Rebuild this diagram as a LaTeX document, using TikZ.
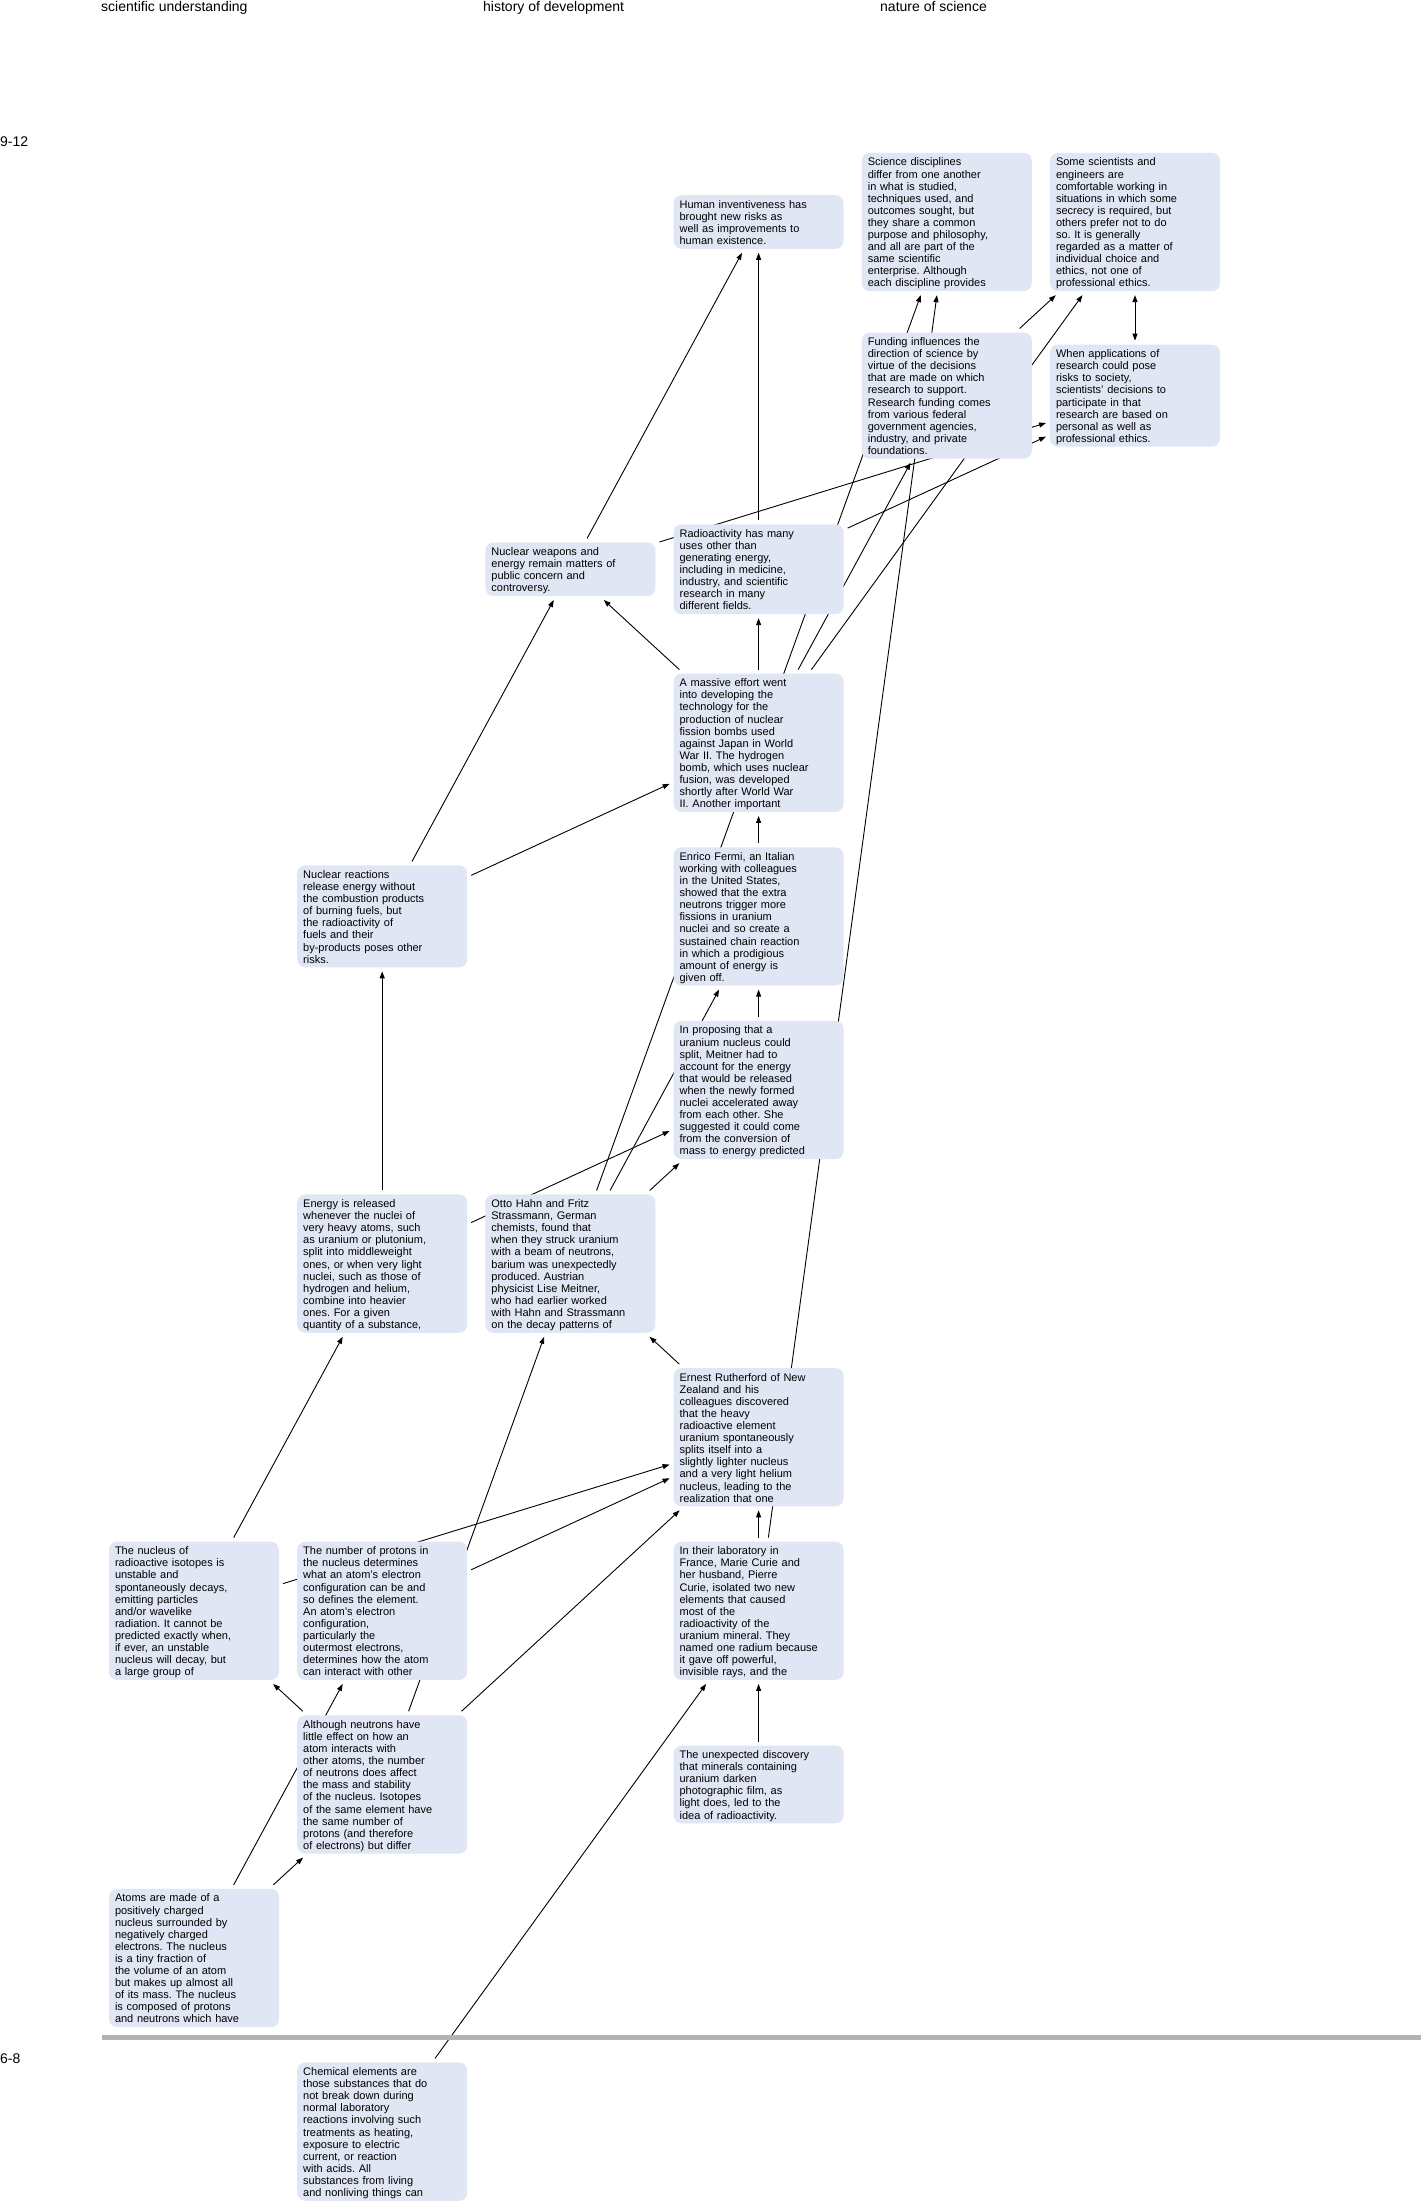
\documentclass[tikz,border=0pt]{standalone}
\usepackage{fontspec}
\setmainfont{Liberation Sans}
\usetikzlibrary{arrows.meta}
\definecolor{boxfill}{RGB}{225,230,245}
\definecolor{sepgray}{RGB}{179,179,179}
\pgfdeclarelayer{background}
\pgfsetlayers{background,main}
\frenchspacing
\newcommand{\topstrut}{\rule[-3.63pt]{0pt}{16.1pt}}
\newcommand{\botstrut}{\rule[-3.63pt]{0pt}{12.1pt}}
\newcommand{\bx}[4]{\node[box] (#1) at (#2,#3) {\topstrut#4\botstrut};}
\begin{document}
\begin{tikzpicture}[x=1pt,y=-1pt,
  box/.style={fill=boxfill, rounded corners=8pt, text width=158pt, inner xsep=6pt, inner ysep=0.6pt,
    align=left, font=\fontsize{11}{12.1}\selectfont, outer sep=4pt},
  edge/.style={draw=black, line width=0.9pt},
  >={Triangle[length=7pt,width=5pt]},
  hdr/.style={anchor=base west, inner sep=0pt, font=\fontsize{14}{16}\selectfont}]
\useasboundingbox (0,0) rectangle (1421,2204);
% headers
\node[hdr] (h1) at (101,11) {scientific understanding};
\node[hdr] (h2) at (483,11) {history of development};
\node[hdr] (h3) at (880,11) {nature of science};
\node[hdr] (g1) at (0,146) {9-12};
\node[hdr] (g2) at (0,2063) {6-8};
\fill[sepgray] (102,2035) rectangle (1421,2040);
% boxes
\bx{HI}{758.6}{222}{Human inventiveness has\\brought new risks as\\well as improvements to\\human existence.}
\bx{SD}{946.8}{222}{Science disciplines\\differ from one another\\in what is studied,\\techniques used, and\\outcomes sought, but\\they share a common\\purpose and philosophy,\\and all are part of the\\same scientific\\enterprise. Although\\each discipline provides}
\bx{SS}{1135}{222}{Some scientists and\\engineers are\\comfortable working in\\situations in which some\\secrecy is required, but\\others prefer not to do\\so. It is generally\\regarded as a matter of\\individual choice and\\ethics, not one of\\professional ethics.}
\bx{FU}{946.8}{395.6}{Funding influences the\\direction of science by\\virtue of the decisions\\that are made on which\\research to support.\\Research funding comes\\from various federal\\government agencies,\\industry, and private\\foundations.}
\bx{WA}{1135}{395.6}{When applications of\\research could pose\\risks to society,\\scientists' decisions to\\participate in that\\research are based on\\personal as well as\\professional ethics.}
\bx{NW}{570.4}{569.2}{Nuclear weapons and\\energy remain matters of\\public concern and\\controversy.}
\bx{RA}{758.6}{569.2}{Radioactivity has many\\uses other than\\generating energy,\\including in medicine,\\industry, and scientific\\research in many\\different fields.}
\bx{ME}{758.6}{742.8}{A massive effort went\\into developing the\\technology for the\\production of nuclear\\fission bombs used\\against Japan in World\\War II. The hydrogen\\bomb, which uses nuclear\\fusion, was developed\\shortly after World War\\II. Another important}
\bx{NR}{382.2}{916.4}{Nuclear reactions\\release energy without\\the combustion products\\of burning fuels, but\\the radioactivity of\\fuels and their\\by-products poses other\\risks.}
\bx{EF}{758.6}{916.4}{Enrico Fermi, an Italian\\working with colleagues\\in the United States,\\showed that the extra\\neutrons trigger more\\fissions in uranium\\nuclei and so create a\\sustained chain reaction\\in which a prodigious\\amount of energy is\\given off.}
\bx{IP}{758.6}{1090}{In proposing that a\\uranium nucleus could\\split, Meitner had to\\account for the energy\\that would be released\\when the newly formed\\nuclei accelerated away\\from each other. She\\suggested it could come\\from the conversion of\\mass to energy predicted}
\bx{ER}{382.2}{1263.6}{Energy is released\\whenever the nuclei of\\very heavy atoms, such\\as uranium or plutonium,\\split into middleweight\\ones, or when very light\\nuclei, such as those of\\hydrogen and helium,\\combine into heavier\\ones. For a given\\quantity of a substance,}
\bx{OH}{570.4}{1263.6}{Otto Hahn and Fritz\\Strassmann, German\\chemists, found that\\when they struck uranium\\with a beam of neutrons,\\barium was unexpectedly\\produced. Austrian\\physicist Lise Meitner,\\who had earlier worked\\with Hahn and Strassmann\\on the decay patterns of}
\bx{RU}{758.6}{1437.2}{Ernest Rutherford of New\\Zealand and his\\colleagues discovered\\that the heavy\\radioactive element\\uranium spontaneously\\splits itself into a\\slightly lighter nucleus\\and a very light helium\\nucleus, leading to the\\realization that one}
\bx{NU}{194}{1610.8}{The nucleus of\\radioactive isotopes is\\unstable and\\spontaneously decays,\\emitting particles\\and/or wavelike\\radiation. It cannot be\\predicted exactly when,\\if ever, an unstable\\nucleus will decay, but\\a large group of}
\bx{NP}{382.2}{1610.8}{The number of protons in\\the nucleus determines\\what an atom's electron\\configuration can be and\\so defines the element.\\An atom's electron\\configuration,\\particularly the\\outermost electrons,\\determines how the atom\\can interact with other}
\bx{MC}{758.6}{1610.8}{In their laboratory in\\France, Marie Curie and\\her husband, Pierre\\Curie, isolated two new\\elements that caused\\most of the\\radioactivity of the\\uranium mineral. They\\named one radium because\\it gave off powerful,\\invisible rays, and the}
\bx{AN}{382.2}{1784.4}{Although neutrons have\\little effect on how an\\atom interacts with\\other atoms, the number\\of neutrons does affect\\the mass and stability\\of the nucleus. Isotopes\\of the same element have\\the same number of\\protons (and therefore\\of electrons) but differ}
\bx{UD}{758.6}{1784.4}{The unexpected discovery\\that minerals containing\\uranium darken\\photographic film, as\\light does, led to the\\idea of radioactivity.}
\bx{AT}{194}{1958}{Atoms are made of a\\positively charged\\nucleus surrounded by\\negatively charged\\electrons. The nucleus\\is a tiny fraction of\\the volume of an atom\\but makes up almost all\\of its mass. The nucleus\\is composed of protons\\and neutrons which have}
\bx{CE}{382.2}{2131.6}{Chemical elements are\\those substances that do\\not break down during\\normal laboratory\\reactions involving such\\treatments as heating,\\exposure to electric\\current, or reaction\\with acids. All\\substances from living\\and nonliving things can}
% connectors
\begin{pgfonlayer}{background}
\draw[edge,->] (NW) -- (HI);
\draw[edge,->] (RA) -- (HI);
\draw[edge,->] (OH) -- (SD);
\draw[edge,->] (MC) -- (SD);
\draw[edge,->] (FU) -- (SS);
\draw[edge,->] (ME) -- (SS);
\draw[edge,<->] (SS) -- (WA);
\draw[edge,->] (NW) -- (WA);
\draw[edge,->] (RA) -- (WA);
\draw[edge,->] (NR) -- (ME);
\draw[edge,->] (ME) -- (NW);
\draw[edge,->] (ME) -- (RA);
\draw[edge,->] (ME) -- (FU);
\draw[edge,->] (EF) -- (ME);
\draw[edge,->] (ER) -- (IP);
\draw[edge,->] (OH) -- (IP);
\draw[edge,->] (OH) -- (EF);
\draw[edge,->] (IP) -- (EF);
\draw[edge,->] (NR) -- (NW);
\draw[edge,->] (ER) -- (NR);
\draw[edge,->] (NU) -- (ER);
\draw[edge,->] (AN) -- (OH);
\draw[edge,->] (RU) -- (OH);
\draw[edge,->] (NU) -- (RU);
\draw[edge,->] (NP) -- (RU);
\draw[edge,->] (AN) -- (RU);
\draw[edge,->] (MC) -- (RU);
\draw[edge,->] (AN) -- (NU);
\draw[edge,->] (AT) -- (NP);
\draw[edge,->] (AT) -- (AN);
\draw[edge,->] (UD) -- (MC);
\draw[edge,->] (CE) -- (MC);
\end{pgfonlayer}
\end{tikzpicture}
\end{document}
